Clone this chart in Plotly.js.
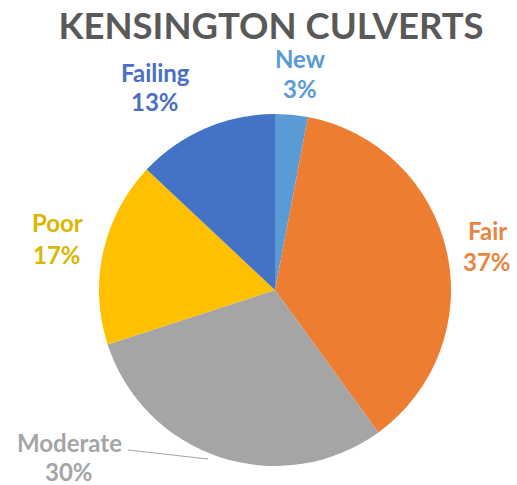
<!DOCTYPE html>
<html><head><meta charset="utf-8">
<script src="https://cdn.plot.ly/plotly-3.0.1.min.js"></script>
<style>html,body{margin:0;padding:0;background:#fff}#chart{width:517px;height:485px}</style>
</head><body><div id="chart"></div>
<script>
const labels = ["New", "Fair", "Moderate", "Poor", "Failing"];
const values = [3, 37, 30, 17, 13];
const sliceColors = ["#5B9BD5", "#ED7D31", "#A5A5A5", "#FFC000", "#4472C4"];
const labelColors = ["#5B9BD5", "#E8853F", "#A5A5A5", "#D9B700", "#4A6FC4"];
// label positions in pixels (layout): [x, name y, percent y]
const labelPos = [[300, 58, 88], [487, 230, 261], [69, 442, 471], [57, 223, 254], [155, 72, 101]];

const W = 517, H = 485;
const cx = 275, cy = 290, r = 176;
const FONT = "Lato, Open Sans, sans-serif";

const annotations = [];
labels.forEach((l, i) => {
  [[l, labelPos[i][1]], [values[i] + "%", labelPos[i][2]]].forEach(([t, py]) => {
    annotations.push({
      xref: "paper", yref: "paper",
      x: labelPos[i][0] / W, y: 1 - py / H,
      text: t, showarrow: false,
      font: {family: FONT, size: 24, color: labelColors[i], weight: "bold"},
      xanchor: "center", yanchor: "middle", borderpad: 0
    });
  });
});

const data = [{
  type: "pie",
  labels: labels,
  values: values,
  sort: false,
  direction: "clockwise",
  rotation: 0,
  marker: {colors: sliceColors, line: {color: "#ffffff", width: 0}},
  textinfo: "none",
  hoverinfo: "label+percent",
  showlegend: false,
  domain: {x: [(cx - r) / W, (cx + r) / W], y: [1 - (cy + r) / H, 1 - (cy - r) / H]}
}];

const layout = {
  width: W, height: H,
  margin: {l: 0, r: 0, t: 0, b: 0},
  paper_bgcolor: "#ffffff",
  showlegend: false,
  title: {
    text: "<b>KENSINGTON CULVERTS</b>",
    font: {family: FONT, size: 36.5, color: "#595959"},
    x: 271 / W, xanchor: "center", y: 1 - 26 / H, yanchor: "middle", yref: "paper"
  },
  annotations: annotations,
  shapes: [{
    type: "line", xref: "paper", yref: "paper",
    x0: 128 / W, y0: 1 - 450 / H, x1: 208 / W, y1: 1 - 459 / H,
    line: {color: "#A5A5A5", width: 1.2}
  }]
};

Plotly.newPlot("chart", data, layout, {displayModeBar: false, staticPlot: true});
</script></body></html>
